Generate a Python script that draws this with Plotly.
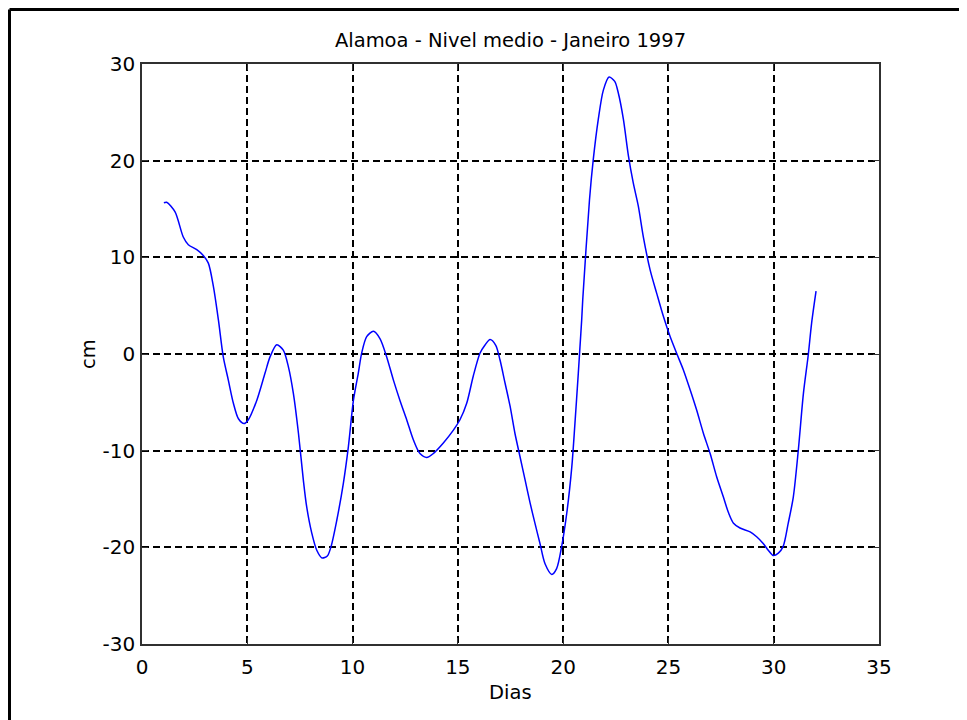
import plotly.graph_objects as go

dias = [1.04, 1.17, 1.57, 1.96, 2.2, 2.6, 2.91, 3.15, 3.39, 3.63, 3.86, 4.1, 4.34, 4.58, 4.85,
        5.05, 5.45, 5.84, 6.08, 6.4, 6.71, 6.95, 7.19, 7.43, 7.66, 7.82, 8.06, 8.3, 8.55, 8.8,
        8.98, 9.25, 9.56, 9.8, 10.04, 10.27, 10.43, 10.67, 10.99, 11.3, 11.62, 11.94, 12.25,
        12.57, 12.89, 13.2, 13.52, 13.83, 14.31, 14.78, 15.1, 15.42, 15.73, 16.05, 16.29,
        16.53, 16.8, 17.0, 17.24, 17.48, 17.71, 17.95, 18.19, 18.43, 18.66, 18.9, 19.14,
        19.46, 19.69, 19.93, 20.17, 20.41, 20.56, 20.72, 20.8, 20.88, 20.93, 21.25, 21.43,
        21.67, 21.91, 22.18, 22.45, 22.62, 22.86, 23.1, 23.33, 23.57, 23.81, 24.13, 24.44,
        24.76, 25.08, 25.39, 25.71, 26.03, 26.34, 26.66, 26.98, 27.29, 27.61, 27.85, 28.09,
        28.4, 28.88, 29.19, 29.5, 29.74, 29.98, 30.22, 30.45, 30.69, 30.93, 31.17, 31.41,
        31.64, 31.8, 32.01]
nivel = [15.65, 15.7, 14.7, 12.1, 11.3, 10.8, 10.2, 9.4, 7.0, 3.5, -0.3, -2.7, -5.1, -6.7, -7.2,
         -6.8, -4.8, -2.0, -0.3, 0.95, 0.4, -1.3, -4.1, -8.2, -13.0, -15.8, -18.5, -20.3, -21.1, -20.9,
         -19.9, -17.2, -13.4, -9.6, -4.8, -2.0, 0.07, 1.8, 2.35, 1.6, -0.3, -2.7, -4.8,
         -6.8, -8.9, -10.3, -10.7, -10.3, -9.2, -7.9, -6.8, -5.1, -2.3, 0.07, 0.93,
         1.5, 0.9, -0.6, -3.0, -5.4, -8.2, -10.6, -13.0, -15.4, -17.5, -19.6, -21.7,
         -22.8, -22.2, -19.9, -16.5, -11.7, -7.2, -2.0, 0.76, 3.5, 5.6, 15.9, 20.1,
         24.3, 27.3, 28.65, 28.2, 27.0, 24.3, 20.5, 17.7, 15.3, 12.1, 8.7, 6.3,
         3.9, 1.8, 0.07, -1.65, -3.7, -5.8, -8.2, -10.3, -12.7, -14.8, -16.4, -17.5,
         -18.0, -18.4, -18.9, -19.6, -20.3, -20.85, -20.6, -19.9, -17.5, -14.8, -9.9, -4.1,
         -0.1, 3.2, 6.5]

x_ticks = [0, 5, 10, 15, 20, 25, 30, 35]
y_ticks = [-30, -20, -10, 0, 10, 20, 30]

font_family = "DejaVu Sans, Liberation Sans, Arial, sans-serif"

# plot area in figure pixels (page has an 8px body margin)
L, T, PW, PH = 134, 56, 737, 580
W, H = 967, 720

fig = go.Figure()
fig.add_trace(go.Scatter(
    x=dias, y=nivel, mode="lines",
    line=dict(color="#0000ff", width=1.5, shape="spline", smoothing=0.8),
    showlegend=False, hoverinfo="skip"))

axis_common = dict(
    showline=True, linecolor="#303030", linewidth=1.5, mirror="ticks",
    ticks="inside", ticklen=6, tickcolor="#303030", tickwidth=1,
    showgrid=True, gridcolor="#000000", gridwidth=1.5, griddash="7px,4px",
    zeroline=False,
    tickfont=dict(family=font_family, size=20, color="#000000"),
)

fig.update_xaxes(range=[0, 35], tickvals=x_ticks, ticktext=[str(v) for v in x_ticks],
                 ticklabelstandoff=4, **axis_common)
fig.update_yaxes(range=[-30, 30], tickvals=y_ticks, ticktext=[str(v) for v in y_ticks],
                 ticklabelstandoff=1, **axis_common)

fig.update_layout(
    width=W, height=H,
    margin=dict(l=L, r=W - L - PW, t=T, b=H - T - PH, autoexpand=False),
    paper_bgcolor="#ffffff", plot_bgcolor="#ffffff",
    title=dict(text="Alamoa - Nivel medio - Janeiro 1997", x=(L + PW / 2) / W, xanchor="center",
               y=1 - 32 / H, yanchor="middle",
               font=dict(family=font_family, size=19.5, color="#000000")),
    annotations=[
        dict(text="Dias", xref="paper", yref="paper", x=0.5, y=-(684 - T - PH) / PH,
             xanchor="center", yanchor="middle", showarrow=False,
             font=dict(family=font_family, size=19.5, color="#000000")),
        dict(text="cm", xref="paper", yref="paper", x=-(L - 80) / PW, y=0.5, textangle=-90,
             xanchor="center", yanchor="middle", showarrow=False,
             font=dict(family=font_family, size=19.5, color="#000000")),
    ],
    shapes=[
        dict(type="line", xref="paper", yref="paper", x0=-(L - 1.5) / PW, x1=3,
             y0=(T + PH - 1.5) / PH, y1=(T + PH - 1.5) / PH,
             line=dict(color="#000000", width=3)),
        dict(type="line", xref="paper", yref="paper", x0=-(L - 1.5) / PW, x1=-(L - 1.5) / PW,
             y0=(T + PH - 1.5) / PH, y1=-1,
             line=dict(color="#000000", width=3)),
    ],
)

fig.write_html("out.html")
